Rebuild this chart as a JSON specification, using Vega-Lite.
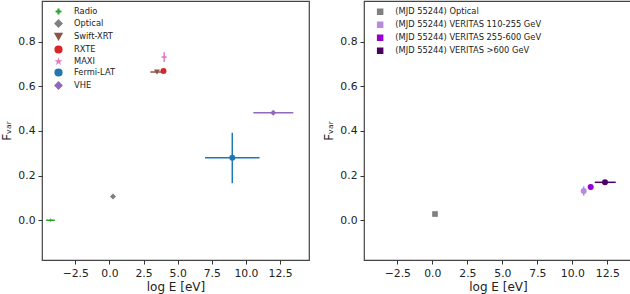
{
  "$schema": "https://vega.github.io/schema/vega-lite/v6.json",
  "padding": {"left": 0, "top": 0, "right": 0, "bottom": 0},
  "spacing": 12,
  "config": {
    "font": "DejaVu Sans",
    "view": {"stroke": "#444", "strokeWidth": 1.2},
    "axis": {
      "domain": false,
      "grid": false,
      "tickColor": "#333",
      "tickSize": 4,
      "labelFontSize": 10.8,
      "labelColor": "#222",
      "labelPadding": 3,
      "titleFontSize": 12,
      "titleFontWeight": "normal",
      "titleColor": "#222"
    },
    "legend": {"padding": 0, "labelFontSize": 8.3, "labelColor": "#222"}
  },
  "resolve": {
    "scale": {"color": "independent", "shape": "independent"},
    "legend": {"color": "independent", "shape": "independent"}
  },
  "hconcat": [
    {
      "width": 267,
      "height": 259,
      "data": {
        "values": [
          {"series": "Radio", "x": -4.3, "y": 0.0, "xlo": -4.64, "xhi": -4.0, "ylo": -0.004, "yhi": 0.004},
          {"series": "Optical", "x": 0.26, "y": 0.106, "xlo": 0.26, "xhi": 0.26, "ylo": 0.106, "yhi": 0.106},
          {"series": "Swift-XRT", "x": 3.48, "y": 0.664, "xlo": 3.0, "xhi": 3.84, "ylo": 0.658, "yhi": 0.67},
          {"series": "RXTE", "x": 3.96, "y": 0.668, "xlo": 3.78, "xhi": 4.14, "ylo": 0.662, "yhi": 0.674},
          {"series": "MAXI", "x": 4.01, "y": 0.731, "xlo": 3.82, "xhi": 4.2, "ylo": 0.709, "yhi": 0.753},
          {"series": "Fermi-LAT", "x": 9.0, "y": 0.28, "xlo": 7.0, "xhi": 11.0, "ylo": 0.166, "yhi": 0.392},
          {"series": "VHE", "x": 12.0, "y": 0.482, "xlo": 10.54, "xhi": 13.47, "ylo": 0.478, "yhi": 0.486}
        ]
      },
      "layer": [
        {
          "mark": {"type": "rule", "strokeWidth": 1.5},
          "encoding": {
            "x": {"field": "xlo", "type": "quantitative", "title": "log E [eV]", "scale": {"domain": [-4.94, 14.62], "nice": false, "zero": false}, "axis": {"values": [-2.5, 0, 2.5, 5, 7.5, 10, 12.5], "format": ".1f"}},
            "x2": {"field": "xhi"},
            "y": {"field": "y", "type": "quantitative", "title": "Fᵥₐᵣ", "scale": {"domain": [-0.178, 0.982], "nice": false, "zero": false}, "axis": {"values": [0, 0.2, 0.4, 0.6, 0.8], "format": ".1f"}},
            "color": {"field": "series", "type": "nominal", "title": null, "scale": {"domain": ["Radio", "Optical", "Swift-XRT", "RXTE", "MAXI", "Fermi-LAT", "VHE"], "range": ["#2ca02c", "#7f7f7f", "#8c564b", "#d62728", "#e377c2", "#1f77b4", "#9467bd"]}}
          }
        },
        {
          "mark": {"type": "rule", "strokeWidth": 1.5},
          "encoding": {
            "x": {"field": "x", "type": "quantitative", "title": "log E [eV]"},
            "y": {"field": "ylo", "type": "quantitative", "title": "Fᵥₐᵣ"},
            "y2": {"field": "yhi"},
            "color": {"field": "series", "type": "nominal", "title": null}
          }
        },
        {
          "mark": {"type": "point", "filled": true, "opacity": 1, "size": 36},
          "encoding": {
            "x": {"field": "x", "type": "quantitative", "title": "log E [eV]"},
            "y": {"field": "y", "type": "quantitative", "title": "Fᵥₐᵣ"},
            "color": {"field": "series", "type": "nominal", "title": null, "legend": {"orient": "none", "legendX": 12, "legendY": 6, "labelOffset": 11, "symbolSize": 45, "symbolOpacity": 1, "rowPadding": 0}},
            "shape": {"field": "series", "type": "nominal", "title": null, "scale": {"domain": ["Radio", "Optical", "Swift-XRT", "RXTE", "MAXI", "Fermi-LAT", "VHE"], "range": ["M-0.65,-0.08L-0.08,-0.08L-0.08,-0.65L0.08,-0.65L0.08,-0.08L0.65,-0.08L0.65,0.08L0.08,0.08L0.08,0.65L-0.08,0.65L-0.08,0.08L-0.65,0.08Z", "diamond", "triangle-down", "circle", "M0,-0.55L0.123,-0.17L0.523,-0.17L0.2,0.065L0.323,0.445L0,0.21L-0.323,0.445L-0.2,0.065L-0.523,-0.17L-0.123,-0.17Z", "circle", "diamond"]}, "legend": {"orient": "none", "legendX": 12, "legendY": 6, "labelOffset": 11, "symbolSize": 45, "symbolOpacity": 1, "rowPadding": 0}}
          }
        }
      ]
    },
    {
      "width": 268,
      "height": 259,
      "data": {
        "values": [
          {"band": "(MJD 55244) Optical", "x": 0.19, "y": 0.028, "xlo": 0.19, "xhi": 0.19, "ylo": 0.028, "yhi": 0.028},
          {"band": "(MJD 55244) VERITAS 110-255 GeV", "x": 10.81, "y": 0.131, "xlo": 10.81, "xhi": 10.81, "ylo": 0.11, "yhi": 0.152},
          {"band": "(MJD 55244) VERITAS 255-600 GeV", "x": 11.31, "y": 0.149, "xlo": 11.31, "xhi": 11.31, "ylo": 0.139, "yhi": 0.159},
          {"band": "(MJD 55244) VERITAS >600 GeV", "x": 12.33, "y": 0.17, "xlo": 11.6, "xhi": 13.1, "ylo": 0.163, "yhi": 0.177}
        ]
      },
      "layer": [
        {
          "mark": {"type": "rule", "strokeWidth": 1.5},
          "encoding": {
            "x": {"field": "xlo", "type": "quantitative", "title": "log E [eV]", "scale": {"domain": [-4.88, 14.26], "nice": false, "zero": false}, "axis": {"values": [-2.5, 0, 2.5, 5, 7.5, 10, 12.5], "format": ".1f"}},
            "x2": {"field": "xhi"},
            "y": {"field": "y", "type": "quantitative", "title": "Fᵥₐᵣ", "scale": {"domain": [-0.178, 0.982], "nice": false, "zero": false}, "axis": {"values": [0, 0.2, 0.4, 0.6, 0.8], "format": ".1f"}},
            "color": {"field": "band", "type": "nominal", "title": null, "scale": {"domain": ["(MJD 55244) Optical", "(MJD 55244) VERITAS 110-255 GeV", "(MJD 55244) VERITAS 255-600 GeV", "(MJD 55244) VERITAS >600 GeV"], "range": ["#808080", "#b88ae0", "#9400d3", "#4b0066"]}}
          }
        },
        {
          "mark": {"type": "rule", "strokeWidth": 1.5},
          "encoding": {
            "x": {"field": "x", "type": "quantitative", "title": "log E [eV]"},
            "y": {"field": "ylo", "type": "quantitative", "title": "Fᵥₐᵣ"},
            "y2": {"field": "yhi"},
            "color": {"field": "band", "type": "nominal", "title": null}
          }
        },
        {
          "transform": [{"filter": "datum.band === '(MJD 55244) Optical'"}],
          "mark": {"type": "point", "filled": true, "opacity": 1, "size": 32, "shape": "square"},
          "encoding": {
            "x": {"field": "x", "type": "quantitative", "title": "log E [eV]"},
            "y": {"field": "y", "type": "quantitative", "title": "Fᵥₐᵣ"},
            "color": {"field": "band", "type": "nominal", "title": null, "legend": {"orient": "none", "legendX": 12, "legendY": 6.5, "labelOffset": 11, "symbolType": "square", "symbolSize": 25, "symbolOpacity": 1, "rowPadding": 1}}
          }
        },
        {
          "transform": [{"filter": "datum.band !== '(MJD 55244) Optical'"}],
          "mark": {"type": "point", "filled": true, "opacity": 1, "size": 36, "shape": "circle"},
          "encoding": {
            "x": {"field": "x", "type": "quantitative", "title": "log E [eV]"},
            "y": {"field": "y", "type": "quantitative", "title": "Fᵥₐᵣ"},
            "color": {"field": "band", "type": "nominal", "title": null, "legend": {"orient": "none", "legendX": 12, "legendY": 6.5, "labelOffset": 11, "symbolType": "square", "symbolSize": 25, "symbolOpacity": 1, "rowPadding": 1}}
          }
        }
      ]
    }
  ]
}
